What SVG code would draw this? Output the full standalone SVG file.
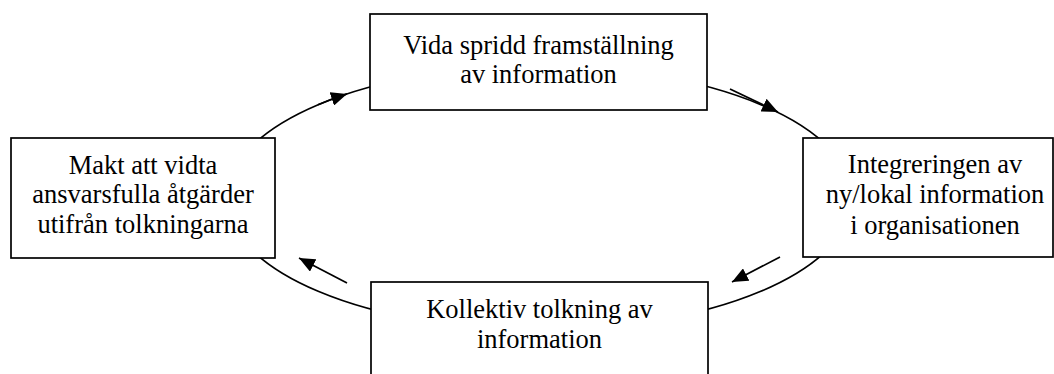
<svg xmlns="http://www.w3.org/2000/svg" width="1054" height="374" viewBox="0 0 1054 374">
  <style>
    .box { fill: #ffffff; stroke: #000000; stroke-width: 1.7; }
    .cycle { fill: none; stroke: #000000; stroke-width: 1.7; }
    .arrow { fill: none; stroke: #000000; stroke-width: 1.7; marker-end: url(#head); }
    .label { font-family: "Liberation Serif", "Times New Roman", serif; font-size: 26.5px; fill: #000000; text-anchor: middle; }
  </style>
  <defs>
    <marker id="head" markerUnits="userSpaceOnUse" markerWidth="17" markerHeight="14" refX="16" refY="7" orient="auto">
      <path d="M0,0 L16,7 L0,14 z" fill="#000000"/>
    </marker>
  </defs>
  <rect width="1054" height="374" fill="#ffffff"/>

  <!-- cycle ring and direction arrows -->
  <g id="connectors">
    <ellipse class="cycle" cx="539.5" cy="198" rx="313" ry="132"/>
    <path class="arrow" d="M318,104.8 A313,132 0 0,1 347,93.9"/>
    <line class="arrow" x1="730" y1="89" x2="778" y2="112"/>
    <line class="arrow" x1="780" y1="257" x2="732" y2="282"/>
    <line class="arrow" x1="347" y1="283" x2="299" y2="258"/>
  </g>

  <g id="node-spridning">
    <rect class="box" x="370" y="14" width="337" height="96"/>
    <text class="label" x="538.5" y="54">Vida spridd framställning</text>
    <text class="label" x="538.5" y="83">av information</text>
  </g>

  <g id="node-integrering">
    <rect class="box" x="803" y="138" width="250" height="119"/>
    <text class="label" x="935" y="173">Integreringen av</text>
    <text class="label" x="935" y="203">ny/lokal information</text>
    <text class="label" x="935" y="234">i organisationen</text>
  </g>

  <g id="node-tolkning">
    <rect class="box" x="371" y="282" width="337" height="100"/>
    <text class="label" x="539.5" y="318">Kollektiv tolkning av</text>
    <text class="label" x="539.5" y="348">information</text>
  </g>

  <g id="node-makt">
    <rect class="box" x="11" y="138" width="264" height="120"/>
    <text class="label" x="143" y="174">Makt att vidta</text>
    <text class="label" x="143" y="203">ansvarsfulla åtgärder</text>
    <text class="label" x="143" y="233">utifrån tolkningarna</text>
  </g>
</svg>
